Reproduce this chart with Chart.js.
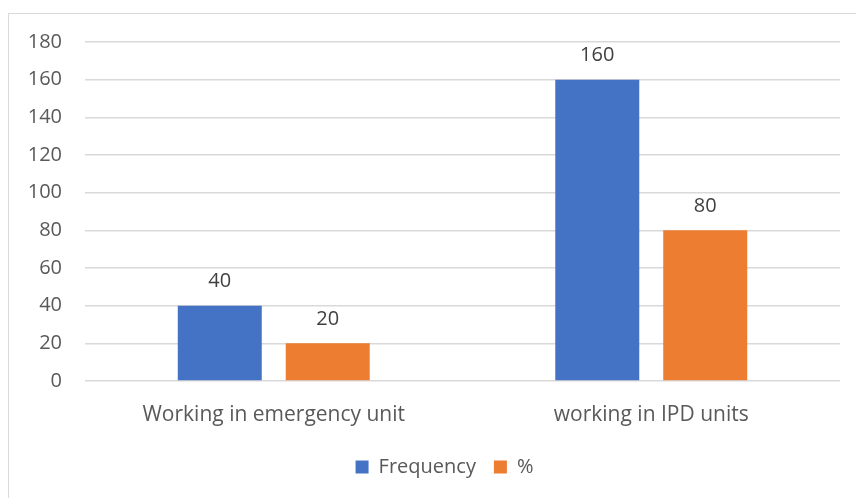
<!DOCTYPE html>
<html>
<head>
<meta charset="utf-8">
<script src="https://cdn.jsdelivr.net/npm/chart.js@4"></script>
<style>
html,body{margin:0;padding:0;background:#fff;}
#wrap{position:absolute;left:8px;top:13px;width:847px;height:484px;border-left:1px solid #d9d9d9;border-top:1px solid #d9d9d9;}
canvas{display:block;}
</style>
</head>
<body>
<div id="wrap"><canvas id="c" width="847" height="484"></canvas></div>
<script>
const categories = ["Working in emergency unit", "working in IPD units"];
const frequency = [40, 160];
const percent = [20, 80];
const seriesNames = ["Frequency", "%"];
const yTicks = [0, 20, 40, 60, 80, 100, 120, 140, 160, 180];

const FONT = "'Open Sans', 'Liberation Sans', sans-serif";
const TXT = '#595959';

const valueLabels = {
  id: 'valueLabels',
  afterDatasetsDraw(chart) {
    const ctx = chart.ctx;
    ctx.save();
    ctx.fillStyle = '#404040';
    ctx.font = '20px ' + FONT;
    ctx.textAlign = 'center';
    ctx.textBaseline = 'middle';
    chart.data.datasets.forEach((ds, i) => {
      chart.getDatasetMeta(i).data.forEach((bar, j) => {
        ctx.fillText(String(ds.data[j]), bar.x, bar.y - 24);
      });
    });
    ctx.restore();
  }
};

const shiftLegend = {
  id: 'shiftLegend',
  afterLayout(chart) {
    if (chart.legend) {
      chart.legend.left += 20;
      chart.legend.right += 20;
    }
  }
};

new Chart(document.getElementById('c'), {
  type: 'bar',
  data: {
    labels: categories,
    datasets: [
      {label: seriesNames[0], data: frequency, backgroundColor: '#4472C4', categoryPercentage: 0.572, barPercentage: 0.778},
      {label: seriesNames[1], data: percent, backgroundColor: '#ED7D31', categoryPercentage: 0.572, barPercentage: 0.778}
    ]
  },
  options: {
    responsive: false,
    animation: false,
    layout: {padding: {top: 28, right: 16, left: 0, bottom: 11}},
    plugins: {
      tooltip: {enabled: false},
      legend: {
        position: 'bottom',
        labels: {
          boxWidth: 13, boxHeight: 13, color: TXT,
          font: {family: FONT, size: 20},
          padding: 18
        }
      }
    },
    scales: {
      x: {
        grid: {display: false, drawTicks: false},
        border: {display: false},
        ticks: {color: TXT, font: {family: FONT, size: 21}, padding: 21},
        afterFit(s) { s.height = 58; s.paddingLeft = 0; s.paddingRight = 0; }
      },
      y: {
        min: 0, max: 180,
        afterBuildTicks(s) { s.ticks = yTicks.map(v => ({value: v})); },
        grid: {color: '#d9d9d9', lineWidth: 1.5, drawTicks: false},
        border: {display: false},
        ticks: {color: TXT, font: {family: FONT, size: 20}, padding: 23},
        afterFit(s) { s.width = 76; s.paddingTop = 0; s.paddingBottom = 0; }
      }
    }
  },
  plugins: [valueLabels, shiftLegend]
});
</script>
</body>
</html>
